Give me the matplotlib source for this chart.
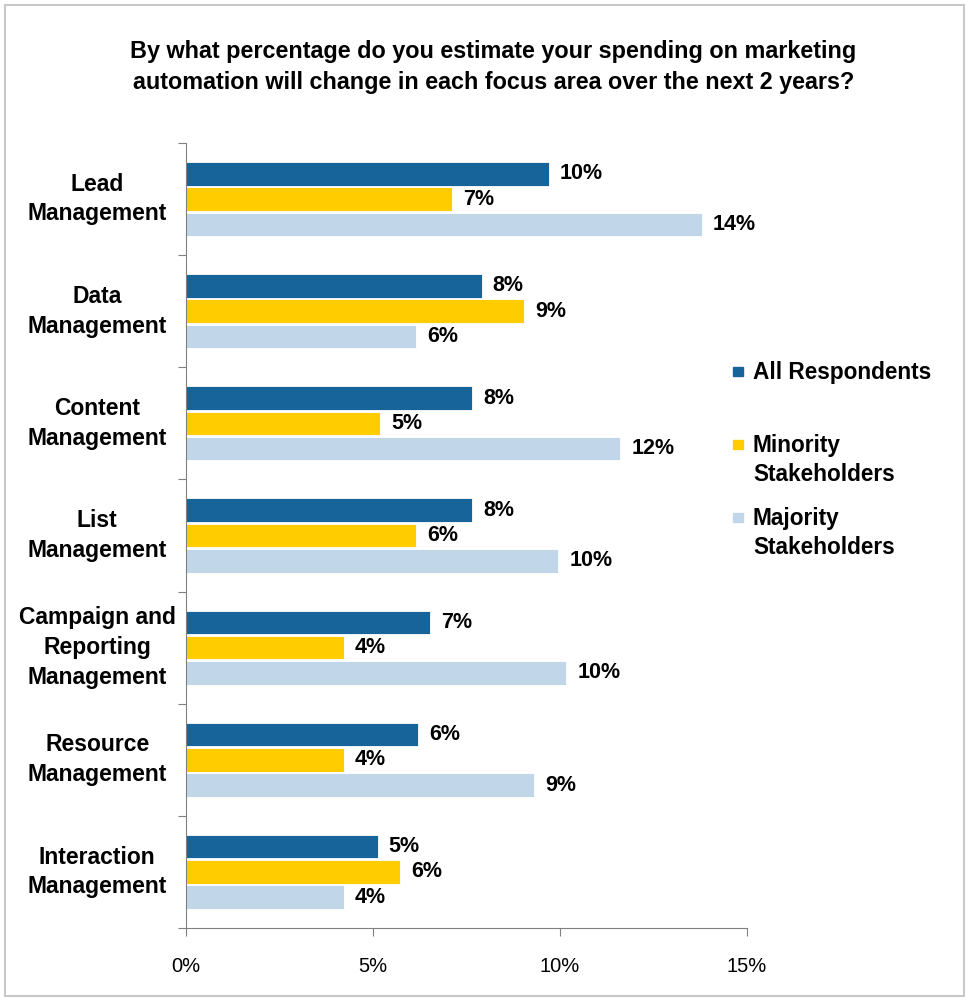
import matplotlib

matplotlib.use("Agg")
import matplotlib.pyplot as plt
import numpy as np
from matplotlib.patches import Rectangle
from matplotlib.ticker import FuncFormatter, MultipleLocator

plt.rcParams["font.family"] = ["Liberation Sans", "DejaVu Sans"]

TITLE = ("By what percentage do you estimate your spending on marketing\n"
         "automation will change in each focus area over the next 2 years?")

categories = [
    "Lead\nManagement",
    "Data\nManagement",
    "Content\nManagement",
    "List\nManagement",
    "Campaign and\nReporting\nManagement",
    "Resource\nManagement",
    "Interaction\nManagement",
]
series_names = ["All Respondents", "Minority\nStakeholders", "Majority\nStakeholders"]
series_colors = ["#17649A", "#FFCC00", "#C2D6EA"]

# values in percent
all_respondents = [9.7, 7.9, 7.65, 7.65, 6.52, 6.2, 5.12]
minority = [7.11, 9.04, 5.19, 6.15, 4.22, 4.22, 5.72]
majority = [13.79, 6.15, 11.6, 9.95, 10.16, 9.3, 4.22]
series_values = [all_respondents, minority, majority]

BAR_H = 0.21
OFFSETS = [-0.225, 0.0, 0.225]
GRAY = "#808080"

fig = plt.figure(figsize=(9.69, 10), dpi=100)
fig.patches.append(Rectangle((0.005, 0.004), 0.99, 0.991, transform=fig.transFigure,
                             fill=False, edgecolor="#C8C8C8", lw=1.5))
ax = fig.add_axes([0.192, 0.072, 0.579, 0.785])

y = np.arange(len(categories))
for vals, off, color in zip(series_values, OFFSETS, series_colors):
    bars = ax.barh(y + off, vals, height=BAR_H, color=color, edgecolor="white", lw=0.6)
    for bar, v in zip(bars, vals):
        ax.text(v + 0.3, bar.get_y() + bar.get_height() / 2, f"{v:.0f}%",
                va="center", ha="left", fontsize=15.5, fontweight="bold")

ax.set_xlim(0, 15)
ax.set_ylim(len(categories) - 0.5, -0.5)
ax.xaxis.set_major_locator(MultipleLocator(5))
ax.xaxis.set_major_formatter(FuncFormatter(lambda v, _: f"{v:.0f}%"))
ax.tick_params(axis="x", length=6, color=GRAY, labelsize=14.5, pad=15)

# group boundaries as major ticks, category labels on minor ticks
ax.set_yticks(np.arange(len(categories) + 1) - 0.5)
ax.set_yticklabels([])
ax.tick_params(axis="y", which="major", length=6, color=GRAY)
ax.set_yticks(y, minor=True)
ax.set_yticklabels(categories, minor=True, fontsize=16.5, fontweight="bold",
                   ha="center", va="center", linespacing=1.37)
ax.tick_params(axis="y", which="minor", length=0, pad=64)

for side in ("top", "right"):
    ax.spines[side].set_visible(False)
for side in ("left", "bottom"):
    ax.spines[side].set_color(GRAY)

fig.text(0.509, 0.933, TITLE, ha="center", va="center", fontsize=16.8,
         fontweight="bold", linespacing=1.45)

# legend drawn by hand so markers sit on the first line
legend_y = [0.6285, 0.5555, 0.4825]
for name, color, ly in zip(series_names, series_colors, legend_y):
    fig.patches.append(Rectangle((0.7565, ly - 0.0045), 0.0103, 0.0095,
                                 transform=fig.transFigure, color=color))
    fig.text(0.777, ly + 0.0105, name, ha="left", va="top", fontsize=16.3,
             fontweight="bold", linespacing=1.33)

fig.savefig("out.png", dpi=100)
